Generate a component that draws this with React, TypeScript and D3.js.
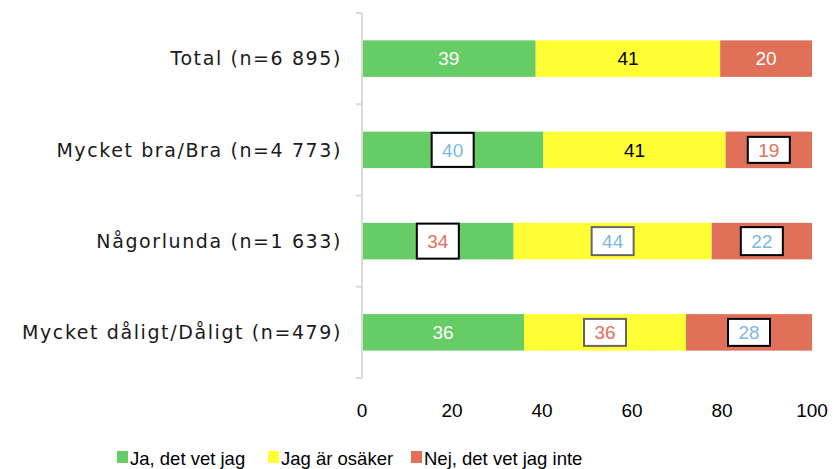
import React from "react";
import * as d3 from "d3";

const categories = [
  "Total (n=6 895)",
  "Mycket bra/Bra (n=4 773)",
  "Någorlunda (n=1 633)",
  "Mycket dåligt/Dåligt (n=479)",
];
const seriesNames = ["Ja, det vet jag", "Jag är osäker", "Nej, det vet jag inte"];
const jaValues = [38.6, 40.3, 33.7, 36.0];
const osakerValues = [41.0, 40.5, 44.0, 36.0];
const nejValues = [20.4, 19.2, 22.3, 28.0];
const xTicks = [0, 20, 40, 60, 80, 100];

// boxed labels: [row, series, border, textColor, boxHeight]
const boxedLabels: [number, number, string, string, number][] = [
  [1, 0, "black", "blue", 34],
  [1, 2, "black", "red", 26],
  [2, 0, "black", "red", 35],
  [2, 1, "gray", "blue", 28],
  [2, 2, "black", "blue", 28],
  [3, 1, "gray", "red", 27],
  [3, 2, "black", "blue", 27],
];

const COLORS = ["#66CC66", "#FFFF33", "#E07058"];
const TEXT_ON = ["#FFFFFF", "#000000", "#FFFFFF"];
const LBL_COLORS: Record<string, string> = { blue: "#7AB8E0", red: "#E4705B" };
const BORDER: Record<string, string> = { black: "#000000", gray: "#666666" };
const CAT_FONT = "'DejaVu Sans', sans-serif";
const NUM_FONT = "'Liberation Sans', Arial, sans-serif";

export default function App() {
  const W = 833, H = 469;
  const x = d3.scaleLinear().domain([0, 100]).range([362, 812]);
  const y = d3.scaleBand<string>().domain(categories).range([13, 378]).paddingInner(0.6).paddingOuter(0.3);
  const step = y.step();
  const series = [jaValues, osakerValues, nejValues];
  const rows = categories.map((c, i) => {
    let acc = 0;
    return series.map((s, k) => {
      const x0 = acc;
      acc += s[i];
      return { k, x0, x1: acc, v: s[i] };
    });
  });
  const boundaries = d3.range(categories.length + 1).map((i) => 13 + i * step);
  const legendX = [117, 268, 411];

  return (
    <svg width={W} height={H} style={{ position: "absolute", left: 0, top: 0, background: "#fff" }} fontFamily={NUM_FONT}>
      {rows.map((segs, i) =>
        segs.map((s) => (
          <rect key={`${i}-${s.k}`} x={x(s.x0)} y={y(categories[i])!} width={x(s.x1) - x(s.x0)} height={y.bandwidth()} fill={COLORS[s.k]} />
        ))
      )}
      <line x1={362} x2={362} y1={13} y2={378} stroke="#D9D9D9" strokeWidth={2} />
      {boundaries.map((b, i) => (
        <line key={i} x1={356} x2={362} y1={b} y2={b} stroke="#D9D9D9" strokeWidth={2} />
      ))}
      {rows.map((segs, i) =>
        segs.map((s) => {
          const cx = (x(s.x0) + x(s.x1)) / 2;
          const cy = y(categories[i])! + y.bandwidth() / 2;
          const bl = boxedLabels.find((b) => b[0] === i && b[1] === s.k);
          if (bl) {
            const bw = 42, bh = bl[4];
            return (
              <g key={`l${i}-${s.k}`}>
                <rect x={cx - bw / 2} y={cy - bh / 2} width={bw} height={bh} fill="#fff" stroke={BORDER[bl[2]]} strokeWidth={2} />
                <text x={cx} y={cy} dy="0.36em" textAnchor="middle" fontSize={19} fill={LBL_COLORS[bl[3]]}>{Math.round(s.v)}</text>
              </g>
            );
          }
          return (
            <text key={`l${i}-${s.k}`} x={cx} y={cy} dy="0.36em" textAnchor="middle" fontSize={19} fill={TEXT_ON[s.k]}>{Math.round(s.v)}</text>
          );
        })
      )}
      {categories.map((c) => (
        <text key={c} x={342} y={y(c)! + y.bandwidth() / 2} dy="0.36em" textAnchor="end" fontSize={19} letterSpacing={1.6} fontFamily={CAT_FONT} fill="#1a1a1a">{c}</text>
      ))}
      {xTicks.map((t) => (
        <text key={t} x={x(t)} y={410} dy="0.36em" textAnchor="middle" fontSize={19} fill="#000">{t}</text>
      ))}
      {seriesNames.map((n, k) => (
        <g key={n}>
          <rect x={legendX[k]} y={451} width={11} height={12} fill={COLORS[k]} />
          <text x={legendX[k] + 13} y={458} dy="0.36em" fontSize={18.5} fill="#000">{n}</text>
        </g>
      ))}
    </svg>
  );
}
